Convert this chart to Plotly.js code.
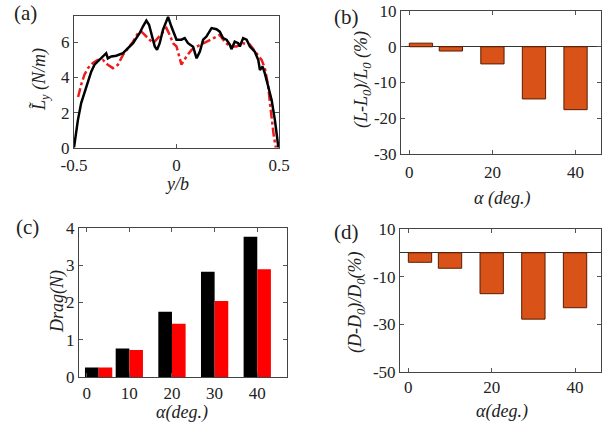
<!DOCTYPE html>
<html>
<head>
<meta charset="utf-8">
<script src="https://cdn.plot.ly/plotly-3.0.1.min.js"></script>
<style>html,body{margin:0;padding:0;background:#fff;}#chart{width:602px;height:430px;}</style>
</head>
<body>
<div id="chart"></div>
<script>
// ---- Panel (a): spanwise lift distribution ----
const spanBlack = [-0.5,-0.481,-0.465,-0.449,-0.432,-0.416,-0.4,-0.375,-0.359,-0.343,-0.335,-0.318,-0.294,-0.277,-0.261,-0.245,-0.229,-0.212,-0.196,-0.18,-0.164,-0.147,-0.134,-0.122,-0.106,-0.095,-0.082,-0.066,-0.049,-0.041,-0.025,-0.013,0.0,0.024,0.04,0.056,0.081,0.098,0.114,0.13,0.146,0.171,0.195,0.211,0.227,0.244,0.26,0.268,0.284,0.301,0.309,0.325,0.342,0.358,0.382,0.399,0.407,0.42,0.431,0.448,0.464,0.48,0.489,0.497];
const liftBlack = [0,1.57,2.54,3.10,3.77,4.33,4.73,5.04,5.20,5.38,5.09,5.20,5.24,5.29,5.38,5.57,5.77,5.95,6.24,6.52,6.90,7.24,7.00,6.42,5.76,5.57,5.95,6.71,7.27,7.45,6.90,6.52,6.15,6.15,6.24,5.95,5.75,5.09,5.47,6.15,6.33,6.81,6.75,6.61,6.24,6.15,5.87,5.61,6.04,5.95,5.76,6.24,6.15,5.76,5.47,4.99,4.42,4.62,4.23,3.46,2.71,1.57,0.63,0];
const spanRed = [-0.48,-0.465,-0.449,-0.432,-0.408,-0.384,-0.359,-0.335,-0.31,-0.286,-0.261,-0.237,-0.212,-0.188,-0.171,-0.155,-0.131,-0.114,-0.098,-0.073,-0.049,-0.033,-0.017,0.0,0.024,0.049,0.073,0.098,0.13,0.163,0.195,0.211,0.235,0.26,0.293,0.325,0.358,0.39,0.415,0.431,0.448,0.456,0.464,0.475,0.485];
const liftRed = [2.89,3.59,4.16,4.53,4.82,5.0,5.0,4.72,4.53,4.72,5.29,5.66,6.04,6.52,6.61,6.42,6.15,5.95,6.15,6.52,6.81,6.42,5.95,5.77,4.73,5.20,5.57,5.75,5.95,6.15,6.33,6.42,6.04,5.77,5.77,5.95,5.87,5.38,5.0,4.53,3.46,2.52,1.57,0.63,0];

// ---- Bar panels ----
const alpha = [2.8, 10, 20, 30, 40];           // bar positions (deg.)
const liftChange = [1.0, -1.2, -4.8, -14.6, -17.6];   // (b) %
const dragBlack = [0.26, 0.77, 1.75, 2.82, 3.76];     // (c) N
const dragRed = [0.26, 0.73, 1.43, 2.04, 2.89];       // (c) N
const dragChange = [-4.0, -6.5, -17.2, -27.9, -23.1]; // (d) %

const W = 602, H = 430;
const PX = p => p / W, PY = p => 1 - p / H;
const serif = '"Liberation Serif", "Times New Roman", Times, serif';
const tickFont = {family: serif, size: 17, color: '#222'};
const titleFont = {family: serif, size: 18, color: '#222'};

function ax(extra) {
  return Object.assign({
    showline: true, mirror: 'ticks', linecolor: '#444', linewidth: 1,
    ticks: 'inside', ticklen: 4, tickcolor: '#555', tickwidth: 1,
    showgrid: false, zeroline: false, tickfont: tickFont, fixedrange: true
  }, extra);
}

const orange = '#d95319', orangeEdge = '#5a1c02';

const data = [
  {type: 'scatter', mode: 'lines', x: spanRed, y: liftRed, xaxis: 'x', yaxis: 'y',
   line: {color: '#ee1c1c', width: 2.5, dash: 'dashdot'}},
  {type: 'scatter', mode: 'lines', x: spanBlack, y: liftBlack, xaxis: 'x', yaxis: 'y',
   line: {color: '#000', width: 2.5}},
  {type: 'bar', x: alpha, y: liftChange, xaxis: 'x2', yaxis: 'y2', width: 5.6,
   marker: {color: orange, line: {color: orangeEdge, width: 1}}},
  {type: 'bar', x: alpha, y: dragBlack, xaxis: 'x3', yaxis: 'y3', width: 3.2, offset: -3.2,
   marker: {color: '#000', line: {width: 0}}},
  {type: 'bar', x: alpha, y: dragRed, xaxis: 'x3', yaxis: 'y3', width: 3.2, offset: 0,
   marker: {color: '#ff0000', line: {width: 0}}},
  {type: 'bar', x: alpha, y: dragChange, xaxis: 'x4', yaxis: 'y4', width: 5.6,
   marker: {color: orange, line: {color: orangeEdge, width: 1}}}
];

function ann(text, x, y, opts) {
  return Object.assign({text: text, x: PX(x), y: PY(y), xref: 'paper', yref: 'paper',
    xanchor: 'center', yanchor: 'middle', showarrow: false, font: titleFont}, opts || {});
}
const panelFont = {family: serif, size: 21, color: '#222'};

const layout = {
  width: W, height: H, margin: {l: 0, r: 0, t: 0, b: 0},
  paper_bgcolor: '#fff', plot_bgcolor: '#fff', showlegend: false, barmode: 'overlay',
  font: {family: serif},
  xaxis: ax({domain: [PX(74), PX(279)], anchor: 'y', range: [-0.5, 0.5],
    tickvals: [-0.5, 0, 0.5], ticktext: ['-0.5', '0', '0.5'], ticklabelstandoff: 2}),
  yaxis: ax({domain: [PY(147.7), PY(16)], anchor: 'x', range: [0, 7.5],
    tickvals: [0, 2, 4, 6], ticktext: ['0', '2', '4', '6']}),
  xaxis2: ax({domain: [PX(401), PX(601.3)], anchor: 'y2', range: [-2, 46.2],
    tickvals: [0, 20, 40], ticktext: ['0', '20', '40'], ticklabelstandoff: 3}),
  yaxis2: ax({domain: [PY(154), PY(11)], anchor: 'x2', range: [-30, 10],
    tickvals: [-30, -20, -10, 0, 10], ticktext: ['-30', '-20', '-10', '0', '10'],
    zeroline: true, zerolinecolor: '#333', zerolinewidth: 1}),
  xaxis3: ax({domain: [PX(79), PX(286.7)], anchor: 'y3', range: [-1.8, 46.9],
    tickvals: [0, 10, 20, 30, 40], ticktext: ['0', '10', '20', '30', '40']}),
  yaxis3: ax({domain: [PY(377.3), PY(227.7)], anchor: 'x3', range: [0, 4],
    tickvals: [0, 1, 2, 3, 4], ticktext: ['0', '1', '2', '3', '4']}),
  xaxis4: ax({domain: [PX(400), PX(601.3)], anchor: 'y4', range: [-2, 46.3],
    tickvals: [0, 20, 40], ticktext: ['0', '20', '40']}),
  yaxis4: ax({domain: [PY(371.7), PY(229)], anchor: 'x4', range: [-50, 10],
    tickvals: [-50, -30, -10, 10], ticktext: ['-50', '-30', '-10', '10'],
    zeroline: true, zerolinecolor: '#333', zerolinewidth: 1}),
  annotations: [
    ann('(a)', 25, 13, {font: panelFont}),
    ann('(b)', 346, 17, {font: panelFont}),
    ann('(c)', 27, 227, {font: panelFont}),
    ann('(d)', 346, 232, {font: panelFont}),
    ann('<i>L\u0303<sub>y</sub> (N/m)</i>', 40, 80, {textangle: -90}),
    ann('<i>y/b</i>', 177, 184),
    ann('<i>(L-L<sub>0</sub>)/L<sub>0</sub> (%)</i>', 362, 80, {textangle: -90}),
    ann('<i>\u03b1 (deg.)</i>', 502, 198),
    ann('<i>Drag(N)</i>', 57, 302, {textangle: -90}),
    ann('<i>\u03b1(deg.)</i>', 182, 412),
    ann('<i>(D-D<sub>0</sub>)/D<sub>0</sub>(%)</i>', 356, 302, {textangle: -90}),
    ann('<i>\u03b1(deg.)</i>', 502, 411)
  ]
};

Plotly.newPlot('chart', data, layout, {staticPlot: true, displayModeBar: false});
</script>
</body>
</html>
